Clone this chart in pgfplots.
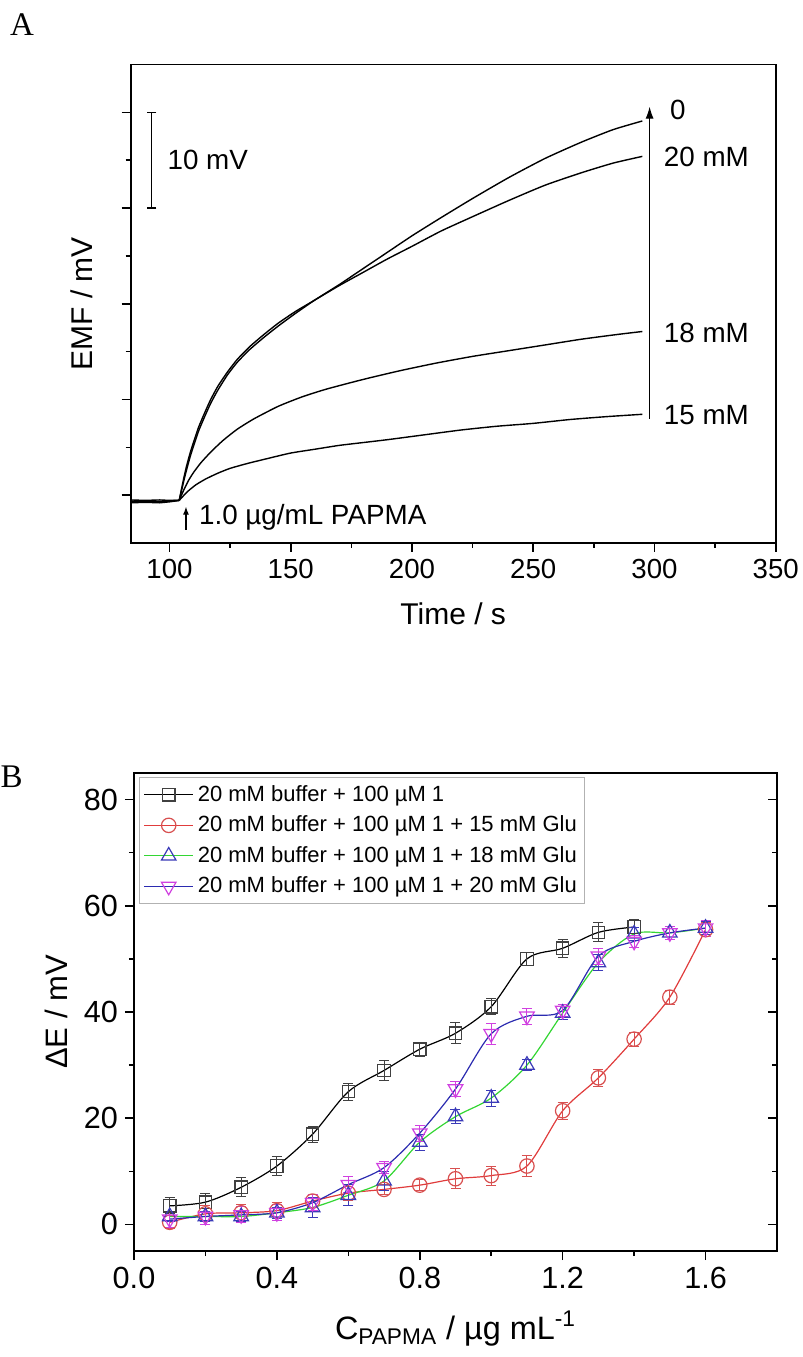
\documentclass[border=0pt]{standalone}
\usepackage{pgfplots}
\pgfplotsset{compat=1.18}
\usepackage{pgfplotstable}
\usepackage{fontspec}
\setmainfont{Liberation Sans}
\newfontfamily\seriffont{Liberation Serif}
\usetikzlibrary{arrows.meta}

\definecolor{cred}{HTML}{E03C3C}
\definecolor{credm}{HTML}{D85050}
\definecolor{cgreen}{HTML}{33D633}
\definecolor{cblue}{HTML}{2B2BB0}
\definecolor{cbluetri}{HTML}{3A3AB8}
\definecolor{cmag}{HTML}{D040E0}
\definecolor{cgrayk}{HTML}{404040}

\pgfplotstableread{
x y e
0.1 3.5 1.5
0.2 4.2 1.7
0.3 7.0 1.8
0.4 11.0 1.8
0.5 17.0 1.5
0.6 25.0 1.6
0.7 29.0 1.9
0.8 33.0 1.3
0.9 36.0 2.0
1.0 41.0 1.5
1.1 50.0 1.2
1.2 52.0 1.7
1.3 55.0 1.8
1.4 56.0 1.5
}\tabblack

\pgfplotstableread{
x y e
0.1 0.4 1.2
0.2 2.0 1.5
0.3 2.2 1.5
0.4 2.6 1.5
0.5 4.4 1.3
0.6 5.9 1.3
0.7 6.6 1.0
0.8 7.4 1.0
0.9 8.6 1.9
1.0 9.2 1.8
1.1 11.0 1.9
1.2 21.4 1.6
1.3 27.6 1.6
1.4 34.9 1.3
1.5 42.8 1.3
1.6 55.5 1.3
}\tabred

\pgfplotstableread{
x y e
0.1 1.5 1.0
0.2 1.5 1.0
0.3 1.5 1.0
0.4 2.2 1.0
0.5 3.2 1.8
0.6 5.5 2.0
0.7 8.2 1.8
0.8 15.5 1.5
0.9 20.3 1.3
1.0 23.8 1.5
1.1 30.0 1.0
1.2 39.8 1.2
1.3 49.3 1.5
1.4 54.7 1.2
1.5 54.9 1.2
1.6 55.8 1.2
}\tabgreen

\pgfplotstableread{
x y e
0.1 1.0 1.5
0.2 1.5 1.5
0.3 1.8 1.5
0.4 2.2 1.5
0.5 4.1 1.5
0.6 7.5 1.5
0.7 10.7 1.2
0.8 17.2 1.5
0.9 25.5 1.5
1.0 35.9 2.0
1.1 39.2 1.5
1.2 40.3 1.2
1.3 50.5 1.5
1.4 53.3 1.2
1.5 54.9 1.2
1.6 55.8 1.5
}\tabblue

\pgfplotsset{
  mystyle/.style={
    scale only axis,
    tick align=outside,
    major tick length=4.5pt,
    minor tick length=2.5pt,
    axis line style={line width=0.9pt},
    every tick/.style={line width=0.8pt, black},
    /pgf/number format/assume math mode=true,
  },
  trace/.style={black, line width=0.7pt, line join=round},
  rise/.style={black, line width=0.7pt, smooth, tension=0.35},
}

\begin{document}
\begin{tikzpicture}
\useasboundingbox (0,0) rectangle (401.5pt,-678.5pt);
\node[font=\seriffont\fontsize{16.5}{18}\selectfont] at (11pt,-12.5pt) {A};
\node[font=\seriffont\fontsize{16.5}{18}\selectfont] at (5.8pt,-388.5pt) {B};

% ---------------- Panel A ----------------
\begin{axis}[mystyle,
  at={(65.35pt,-32.25pt)}, anchor=north west,
  width=322.5pt, height=239.25pt,
  xmin=84, xmax=350, ymin=0, ymax=50,
  xtick={100,150,...,350}, minor x tick num=1,
  ytick={5,15,...,45}, minor ytick={10,20,30,40}, yticklabels={},
  xtick pos=left, ytick pos=left,
  tick label style={font=\fontsize{13.8}{16}\selectfont},
  label style={font=\fontsize{15}{18}\selectfont},
  xlabel={Time / s}, ylabel={EMF / mV},
  xlabel style={at={(axis description cs:0.5,-0.148)}, anchor=center},
  ylabel style={at={(axis description cs:-0.076,0.5)}, anchor=center},
  clip=false]
% baselines
\addplot[trace] coordinates {(84,4.3) (90,4.35) (96,4.3) (100,4.4) (104,4.45)};
\addplot[trace] coordinates {(84,4.5) (90,4.45) (96,4.5) (100,4.45) (104,4.45)};
\addplot[trace] coordinates {(84,4.2) (90,4.25) (96,4.2) (100,4.3) (104,4.45)};
\addplot[trace] coordinates {(84,4.4) (90,4.3) (96,4.35) (100,4.4) (104,4.45)};
% 0 mM
\addplot[rise] coordinates {
(104,4.45) (105,5.5) (106,6.6) (107,7.6) (108.5,9.0) (110,10.2) (112,11.7) (114.5,13.2) (117,14.6) (120,16.0) (124,17.6) (128,18.9) (133,20.2) (139,21.5) (145,22.7) (152,24.0) (160,25.4) (170,27.0) (180,28.7) (190,30.4) (200,32.1) (212,34.0) (225,36.0) (240,38.2) (255,40.2) (270,41.9) (283,43.2) (295,44.1)};
% 20 mM
\addplot[rise] coordinates {
(104,4.45) (105,5.7) (106,6.9) (107,8.0) (108.5,9.4) (110,10.6) (112,12.1) (114.5,13.6) (117,15.0) (120,16.4) (124,17.9) (128,19.2) (133,20.5) (139,21.8) (145,23.0) (152,24.2) (160,25.4) (170,26.9) (180,28.3) (190,29.7) (200,31.0) (212,32.6) (225,34.1) (240,35.8) (255,37.4) (270,38.7) (283,39.7) (295,40.4)};
% 18 mM
\addplot[rise] coordinates {
(104,4.45) (106,5.6) (108,6.6) (110,7.4) (113,8.4) (117,9.5) (122,10.7) (128,11.9) (135,13.0) (145,14.3) (155,15.3) (165,16.1) (180,17.1) (195,18.0) (210,18.8) (225,19.5) (240,20.1) (255,20.7) (270,21.3) (285,21.8) (295,22.1)};
% 15 mM
\addplot[rise] coordinates {
(104,4.45) (106,5.0) (108,5.5) (111,6.1) (115,6.7) (120,7.3) (125,7.8) (132,8.3) (140,8.8) (150,9.4) (160,9.8) (170,10.2) (180,10.5) (190,10.8) (205,11.3) (220,11.8) (235,12.2) (250,12.5) (265,12.9) (280,13.2) (295,13.45)};
% scale bar
\addplot[black, line width=0.7pt, mark=-, mark size=2.3pt, mark options={line width=0.7pt}] coordinates {(92.7,35) (92.7,45)};
\node[anchor=west, font=\fontsize{13.9}{16}\selectfont] at (axis cs:96.3,40) {10 mV};
% big arrow
\draw[-{Latex[length=6pt,width=4pt]}, line width=0.6pt] (axis cs:298,13.0) -- (axis cs:298,45.6);
\node[anchor=west, font=\fontsize{13.9}{16}\selectfont] at (axis cs:303.5,45.3) {0};
\node[anchor=west, font=\fontsize{13.9}{16}\selectfont] at (axis cs:301,40.3) {20 mM};
\node[anchor=west, font=\fontsize{13.9}{16}\selectfont] at (axis cs:301,21.9) {18 mM};
\node[anchor=west, font=\fontsize{13.9}{16}\selectfont] at (axis cs:301,13.4) {15 mM};
% small arrow
\draw[-{Latex[length=4pt,width=3pt]}, line width=0.6pt] (axis cs:106.8,1.4) -- (axis cs:106.8,3.8);
\node[anchor=west, font=\fontsize{13.9}{16}\selectfont] at (axis cs:109.3,2.7) {1.0 µg/mL PAPMA};
\end{axis}

% ---------------- Panel B ----------------
\begin{axis}[mystyle,
  at={(67pt,-386.5pt)}, anchor=north west,
  width=321.5pt, height=239pt,
  xmin=0, xmax=1.8, ymin=-5, ymax=85,
  xtick={0,0.4,...,1.61}, minor x tick num=1,
  ytick={0,20,...,80}, minor y tick num=1,
  xtick pos=left, ytick pos=left,
  tick label style={font=\fontsize{15.3}{18}\selectfont},
  xticklabel style={/pgf/number format/.cd, fixed, fixed zerofill, precision=1},
  xlabel={C\textsubscript{PAPMA} / µg mL\textsuperscript{-1}},
  ylabel={ΔE / mV},
  xlabel style={font=\fontsize{16.2}{19}\selectfont, at={(axis description cs:0.5,-0.162)}, anchor=center},
  ylabel style={font=\fontsize{15.5}{18}\selectfont, at={(axis description cs:-0.12,0.5)}, anchor=center},
  legend cell align=left,
  legend style={at={(0.008,0.992)}, anchor=north west, draw=gray!60, line width=0.5pt,
    font=\fontsize{11}{13}\selectfont, row sep=1.8pt, inner xsep=2pt, inner ysep=2pt},
  legend image code/.code={\draw[mark repeat=2,mark phase=2,#1] plot coordinates {(0cm,0cm) (0.43cm,0cm) (0.86cm,0cm)};},
  ]
\addplot[draw=black, line width=0.6pt, smooth, tension=0.5,
  mark=square, mark size=3.1pt, mark options={draw=cgrayk, fill=white, solid, line width=0.6pt},
  error bars/.cd, y dir=both, y explicit,
  error bar style={draw=cgrayk, line width=0.5pt},
  error mark options={draw=cgrayk, rotate=90, mark size=2.5pt, line width=0.5pt}]
  table[x=x, y=y, y error=e] {\tabblack};
\addlegendentry{20 mM buffer + 100 µM 1}
\addplot[draw=cred, line width=0.6pt, smooth, tension=0.5,
  mark=o, mark size=3.6pt, mark options={draw=credm, fill=white, solid, line width=0.6pt},
  error bars/.cd, y dir=both, y explicit,
  error bar style={draw=credm, line width=0.5pt},
  error mark options={draw=credm, rotate=90, mark size=2.5pt, line width=0.5pt}]
  table[x=x, y=y, y error=e] {\tabred};
\addlegendentry{20 mM buffer + 100 µM 1 + 15 mM Glu}
\addplot[draw=cgreen, line width=0.6pt, smooth, tension=0.5,
  mark=triangle, mark size=4.2pt, mark options={draw=cbluetri, fill=none, solid, line width=0.6pt},
  error bars/.cd, y dir=both, y explicit,
  error bar style={draw=cbluetri, line width=0.5pt},
  error mark options={draw=cbluetri, rotate=90, mark size=2.5pt, line width=0.5pt}]
  table[x=x, y=y, y error=e] {\tabgreen};
\addlegendentry{20 mM buffer + 100 µM 1 + 18 mM Glu}
\addplot[draw=cblue, line width=0.6pt, smooth, tension=0.5,
  mark=triangle, mark size=4.2pt, mark options={draw=cmag, fill=none, solid, rotate=180, line width=0.6pt},
  error bars/.cd, y dir=both, y explicit,
  error bar style={draw=cmag, line width=0.5pt},
  error mark options={draw=cmag, rotate=90, mark size=2.5pt, line width=0.5pt}]
  table[x=x, y=y, y error=e] {\tabblue};
\addlegendentry{20 mM buffer + 100 µM 1 + 20 mM Glu}
\end{axis}
% right-side inward ticks for panel B
\begin{axis}[mystyle,
  at={(67pt,-386.5pt)}, anchor=north west,
  width=321.5pt, height=239pt,
  xmin=0, xmax=1.8, ymin=-5, ymax=85,
  xtick=\empty, ytick={0,20,...,80}, minor y tick num=1,
  yticklabels={}, ytick pos=right, tick align=inside]
\end{axis}
\end{tikzpicture}
\end{document}
